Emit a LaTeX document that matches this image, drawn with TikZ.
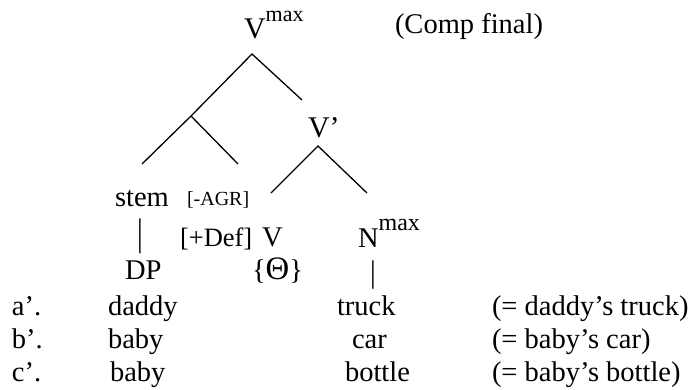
\documentclass[tikz,border=0pt]{standalone}
\usepackage{fontspec}
\setmainfont{Liberation Serif}
\newcommand{\fsz}[1]{\fontsize{#1}{#1}\selectfont}
\begin{document}
\begin{tikzpicture}[x=1pt,y=-1pt,
  txt/.style={anchor=base west,inner sep=0pt,outer sep=0pt,font=\fsz{28.5}},
  big/.style={txt,font=\fsz{30}},
  small/.style={txt,font=\fsz{20}},
  bar/.style={anchor=center,inner sep=0pt,font=\fsz{28.5}},
  branch/.style={line width=1.3pt}]
\useasboundingbox (0,0) rectangle (699,389);
% labels
\node[big] (vmax) at (244,38) {V\raisebox{17pt}{\fsz{22}max}};
\node[txt] (comp) at (395,33) {(Comp final)};
\node[big] (vbar) at (308,137) {V’};
\node[txt] (stem) at (115,206) {stem};
\node[small] (agr) at (187,205) {[-AGR]};
\node[bar] (bar1) at (140,236) {\scalebox{1}[1.35]{|}};
\node[txt,font=\fsz{26.5}] (def) at (180,246) {[+Def]};
\node[txt] (v) at (262,246) {V};
\node[txt] (nmax) at (358,247) {N\raisebox{17pt}{\fsz{24}max}};
\node[txt] (dp) at (125,279) {DP};
\node[txt] (theta) at (252,279) {\{\scalebox{1.15}{Θ}\}};
\node[bar] (bar2) at (373,275) {\scalebox{1}[1.1]{|}};
% examples
\node[txt] (a) at (12,315) {a’.};
\node[txt] (b) at (12,348) {b’.};
\node[txt] (c) at (12,381) {c’.};
\node[txt] (a1) at (108,315) {daddy};
\node[txt] (b1) at (108,348) {baby};
\node[txt] (c1) at (110,381) {baby};
\node[txt] (a2) at (337,315) {truck};
\node[txt] (b2) at (352,348) {car};
\node[txt] (c2) at (345,381) {bottle};
\node[txt] (a3) at (492,315) {(= daddy’s truck)};
\node[txt] (b3) at (492,348) {(= baby’s car)};
\node[txt] (c3) at (492,381) {(= baby’s bottle)};
% tree branches
\coordinate (top) at (252,54);
\coordinate (topr) at (302,100);
\coordinate (mid) at (191,116);
\coordinate (midl) at (142,164);
\coordinate (midr) at (238,164);
\coordinate (vb) at (318,146);
\coordinate (vbl) at (271,193);
\coordinate (vbr) at (367,193);
\draw[branch] (topr) -- (top) -- (mid) -- (midl);
\draw[branch] (mid) -- (midr);
\draw[branch] (vbl) -- (vb) -- (vbr);
\end{tikzpicture}
\end{document}
